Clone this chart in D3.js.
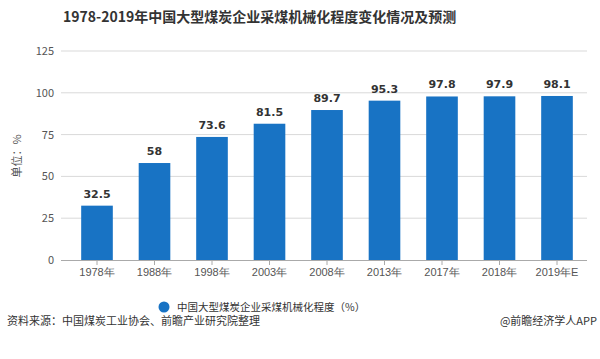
<!DOCTYPE html>
<html><head><meta charset="utf-8">
<script src="https://cdn.jsdelivr.net/npm/d3@7"></script>
<style>body{margin:0;background:#fff;}svg{display:block;font-family:"Noto Sans CJK SC","Noto Sans",sans-serif;}</style>
</head><body>
<svg id="c" width="600" height="359"></svg>
<script>
const categories = ["1978年","1988年","1998年","2003年","2008年","2013年","2017年","2018年","2019年E"];
const values = [32.5,58,73.6,81.5,89.7,95.3,97.8,97.9,98.1];
const yTicks = [0,25,50,75,100,125];
const title = "1978-2019年中国大型煤炭企业采煤机械化程度变化情况及预测";
const seriesName = "中国大型煤炭企业采煤机械化程度（%）";
const source = "资料来源：中国煤炭工业协会、前瞻产业研究院整理";
const brand = "@前瞻经济学人APP";

const svg = d3.select("#c");
const x = d3.scaleBand().domain(categories).range([68.25,585.75]).paddingInner(0.45).paddingOuter(0.225);
const y = d3.scaleLinear().domain([0,125]).range([260,51]);
const blue = "#1873c4";

svg.append("text").attr("x",63).attr("y",22).attr("font-size",14).attr("font-weight","bold").attr("fill","#333").text(title);

// grid
svg.append("g").selectAll("line").data(yTicks.filter(d=>d>0)).join("line")
  .attr("x1",61).attr("x2",587).attr("y1",d=>y(d)).attr("y2",d=>y(d))
  .attr("stroke","#d9d9d9").attr("stroke-width",1);

// y axis labels
const ya = svg.append("g").attr("transform","translate(61,0)").call(d3.axisLeft(y).tickValues(yTicks).tickSize(0).tickPadding(7));
ya.select(".domain").remove();
ya.selectAll("text").attr("font-size",11).attr("fill","#555").attr("font-family","'Noto Sans CJK SC',sans-serif");

svg.append("text").attr("transform","translate(21,156) rotate(-90)").attr("text-anchor","middle")
  .attr("font-size",11).attr("fill","#555").text("单位：%");

// bars
svg.append("g").selectAll("rect").data(values).join("rect")
  .attr("x",(d,i)=>x(categories[i])).attr("width",x.bandwidth())
  .attr("y",d=>y(d)).attr("height",d=>y(0)-y(d)).attr("fill",blue);

svg.append("g").selectAll("text").data(values).join("text")
  .attr("x",(d,i)=>x(categories[i])+x.bandwidth()/2).attr("y",d=>y(d)-8)
  .attr("text-anchor","middle").attr("font-size",11).attr("font-weight","bold")
  .attr("font-family","'DejaVu Sans',sans-serif").attr("fill","#333").text(d=>d);

// x axis
const xa = svg.append("g").attr("transform","translate(0,260)").call(d3.axisBottom(x).tickSize(5).tickSizeOuter(0).tickPadding(3));
xa.select(".domain").attr("d","M61,0.5H587").attr("stroke","#aaa");
xa.selectAll(".tick line").attr("stroke","#aaa");
xa.selectAll("text").attr("font-size",11).attr("fill","#555");

// legend
svg.append("circle").attr("cx",164).attr("cy",307).attr("r",5.5).attr("fill",blue);
svg.append("text").attr("x",177).attr("y",311).attr("font-size",10.5).attr("fill","#333").text(seriesName);

// footer
svg.append("text").attr("x",7).attr("y",325).attr("font-size",11).attr("fill","#333").text(source);
svg.append("text").attr("x",597).attr("y",325).attr("text-anchor","end").attr("font-size",11).attr("fill","#333").text(brand);
</script>
</body></html>
